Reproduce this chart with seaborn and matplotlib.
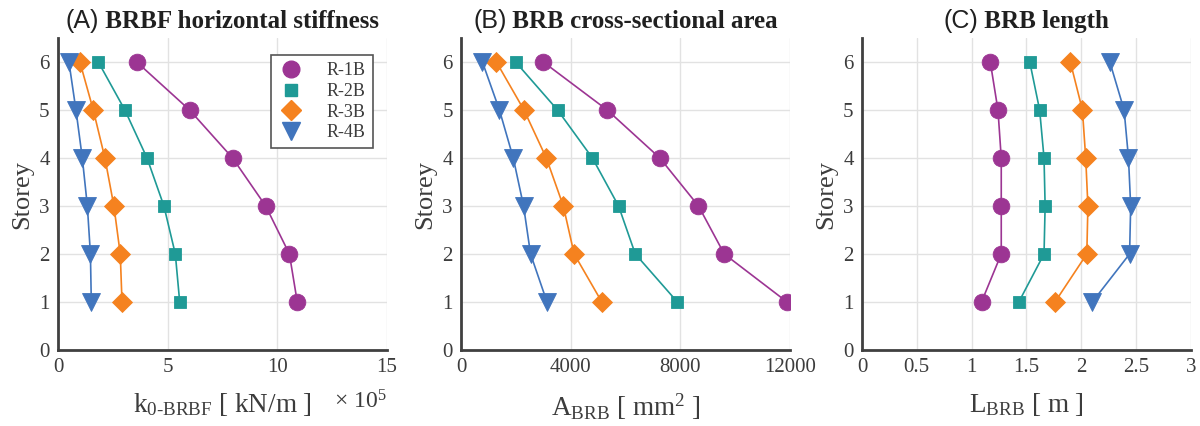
import matplotlib
matplotlib.use("Agg")
import matplotlib.pyplot as plt
import seaborn as sns
import pandas as pd
from matplotlib.lines import Line2D
from matplotlib.offsetbox import TextArea, HPacker, AnchoredOffsetbox

# Storey levels (top to bottom)
storey = [6, 5, 4, 3, 2, 1]
series = ["R-1B", "R-2B", "R-3B", "R-4B"]

# (A) BRBF horizontal stiffness, x 10^5 kN/m
stiff_r1 = [3.59, 6.00, 7.96, 9.47, 10.55, 10.91]
stiff_r2 = [1.84, 3.05, 4.06, 4.83, 5.35, 5.55]
stiff_r3 = [1.00, 1.61, 2.14, 2.55, 2.84, 2.92]
stiff_r4 = [0.50, 0.82, 1.11, 1.34, 1.48, 1.52]

# (B) BRB cross-sectional area, mm^2
area_r1 = [3000, 5330, 7250, 8660, 9600, 11890]
area_r2 = [1990, 3520, 4790, 5745, 6355, 7890]
area_r3 = [1290, 2295, 3110, 3730, 4125, 5135]
area_r4 = [780, 1400, 1905, 2280, 2535, 3135]

# (C) BRB length, m
len_r1 = [1.17, 1.24, 1.27, 1.27, 1.27, 1.09]
len_r2 = [1.53, 1.62, 1.66, 1.67, 1.66, 1.43]
len_r3 = [1.90, 2.01, 2.04, 2.06, 2.05, 1.76]
len_r4 = [2.26, 2.39, 2.43, 2.45, 2.44, 2.10]

colors = ["#9c3593", "#1f9a96", "#f5821f", "#4175bd"]
markers = ["o", "s", "D", "v"]
msizes = [12, 9, 10, 13]

sns.set_style("white")
plt.rcParams["font.family"] = ["Liberation Serif", "DejaVu Serif"]
plt.rcParams["mathtext.fontset"] = "custom"
plt.rcParams["mathtext.rm"] = "Liberation Serif"
plt.rcParams["mathtext.it"] = "Liberation Serif:italic"
plt.rcParams["mathtext.bf"] = "Liberation Serif:bold"

txt_color = "#3c3c3c"
spine_color = "#404040"

fig = plt.figure(figsize=(12, 4.26), dpi=100)
w, h = 0.2742, 0.7324
bottom = 0.1784
lefts = [0.0483, 0.3842, 0.7183]
axes = [fig.add_axes([l, bottom, w, h]) for l in lefts]

panels = [
    ([stiff_r1, stiff_r2, stiff_r3, stiff_r4], (0, 15), [0, 5, 10, 15], ["0", "5", "10", "15"],
     "k$_{\\mathrm{0\\text{-}BRBF}}$ [ kN/m ]", "(A)", " BRBF horizontal stiffness"),
    ([area_r1, area_r2, area_r3, area_r4], (0, 12000), [0, 4000, 8000, 12000],
     ["0", "4000", "8000", "12000"],
     "A$_{\\mathrm{BRB}}$ [ mm$^{2}$ ]", "(B)", " BRB cross-sectional area"),
    ([len_r1, len_r2, len_r3, len_r4], (0, 3), [0, 0.5, 1, 1.5, 2, 2.5, 3],
     ["0", "0.5", "1", "1.5", "2", "2.5", "3"],
     "L$_{\\mathrm{BRB}}$ [ m ]", "(C)", " BRB length"),
]

for ax, (vals, xlim, xticks, xticklabels, xlabel, tag, title) in zip(axes, panels):
    for v, c, m, ms in zip(vals, colors, markers, msizes):
        df = pd.DataFrame({"x": v, "storey": storey})
        sns.lineplot(data=df, x="x", y="storey", sort=False, estimator=None,
                     color=c, marker=m, markersize=ms, markeredgecolor=c,
                     markeredgewidth=0.6, linewidth=1.2, ax=ax, zorder=3)
    ax.set_xlim(*xlim)
    ax.set_ylim(0, 6.5)
    ax.set_xticks(xticks)
    ax.set_xticklabels(xticklabels)
    ax.set_yticks(range(0, 7))
    ax.grid(True, color="#e2e2e2", linewidth=1.0, zorder=0)
    ax.set_axisbelow(True)
    for side in ("top", "right"):
        ax.spines[side].set_visible(False)
    for side in ("left", "bottom"):
        ax.spines[side].set_color(spine_color)
        ax.spines[side].set_linewidth(2.0)
    ax.tick_params(direction="in", length=3, width=1, colors=spine_color,
                   labelsize=15, labelcolor=txt_color, pad=6)
    ax.set_xlabel(xlabel, fontsize=19.5, color=txt_color, labelpad=10)
    ax.set_ylabel("Storey", fontsize=19, color=txt_color, labelpad=4)

    head = TextArea(tag, textprops=dict(fontsize=18, family="Liberation Sans",
                                        color="#202020"))
    body = TextArea(title, textprops=dict(fontsize=18, weight="bold",
                                          family="Liberation Serif", color="#202020"))
    box = HPacker(children=[head, body], align="baseline", pad=0, sep=0)
    anchored = AnchoredOffsetbox(loc="lower center", child=box, pad=0, frameon=False,
                                 bbox_to_anchor=(0.5, 1.015),
                                 bbox_transform=ax.transAxes, borderpad=0)
    ax.add_artist(anchored)

# Exponent for the stiffness axis
axes[0].text(1.0, -0.165, "\u00d7 10$^{5}$", transform=axes[0].transAxes,
             ha="right", va="center", fontsize=17, color=txt_color)

handles = [Line2D([], [], linestyle="none", marker=m, markersize=ms, color=c,
                  markeredgecolor=c, label=s)
           for s, c, m, ms in zip(series, colors, markers, msizes)]
leg = axes[0].legend(handles=handles, loc="upper right", bbox_to_anchor=(0.957, 0.945),
                     fontsize=13, frameon=True, fancybox=False, framealpha=1,
                     edgecolor="#555555", handletextpad=1.2, borderpad=0.4,
                     labelspacing=0.2, handlelength=1.5, borderaxespad=0)
leg.get_frame().set_linewidth(1.2)
for t in leg.get_texts():
    t.set_color(txt_color)

fig.savefig("out.png", dpi=100)
